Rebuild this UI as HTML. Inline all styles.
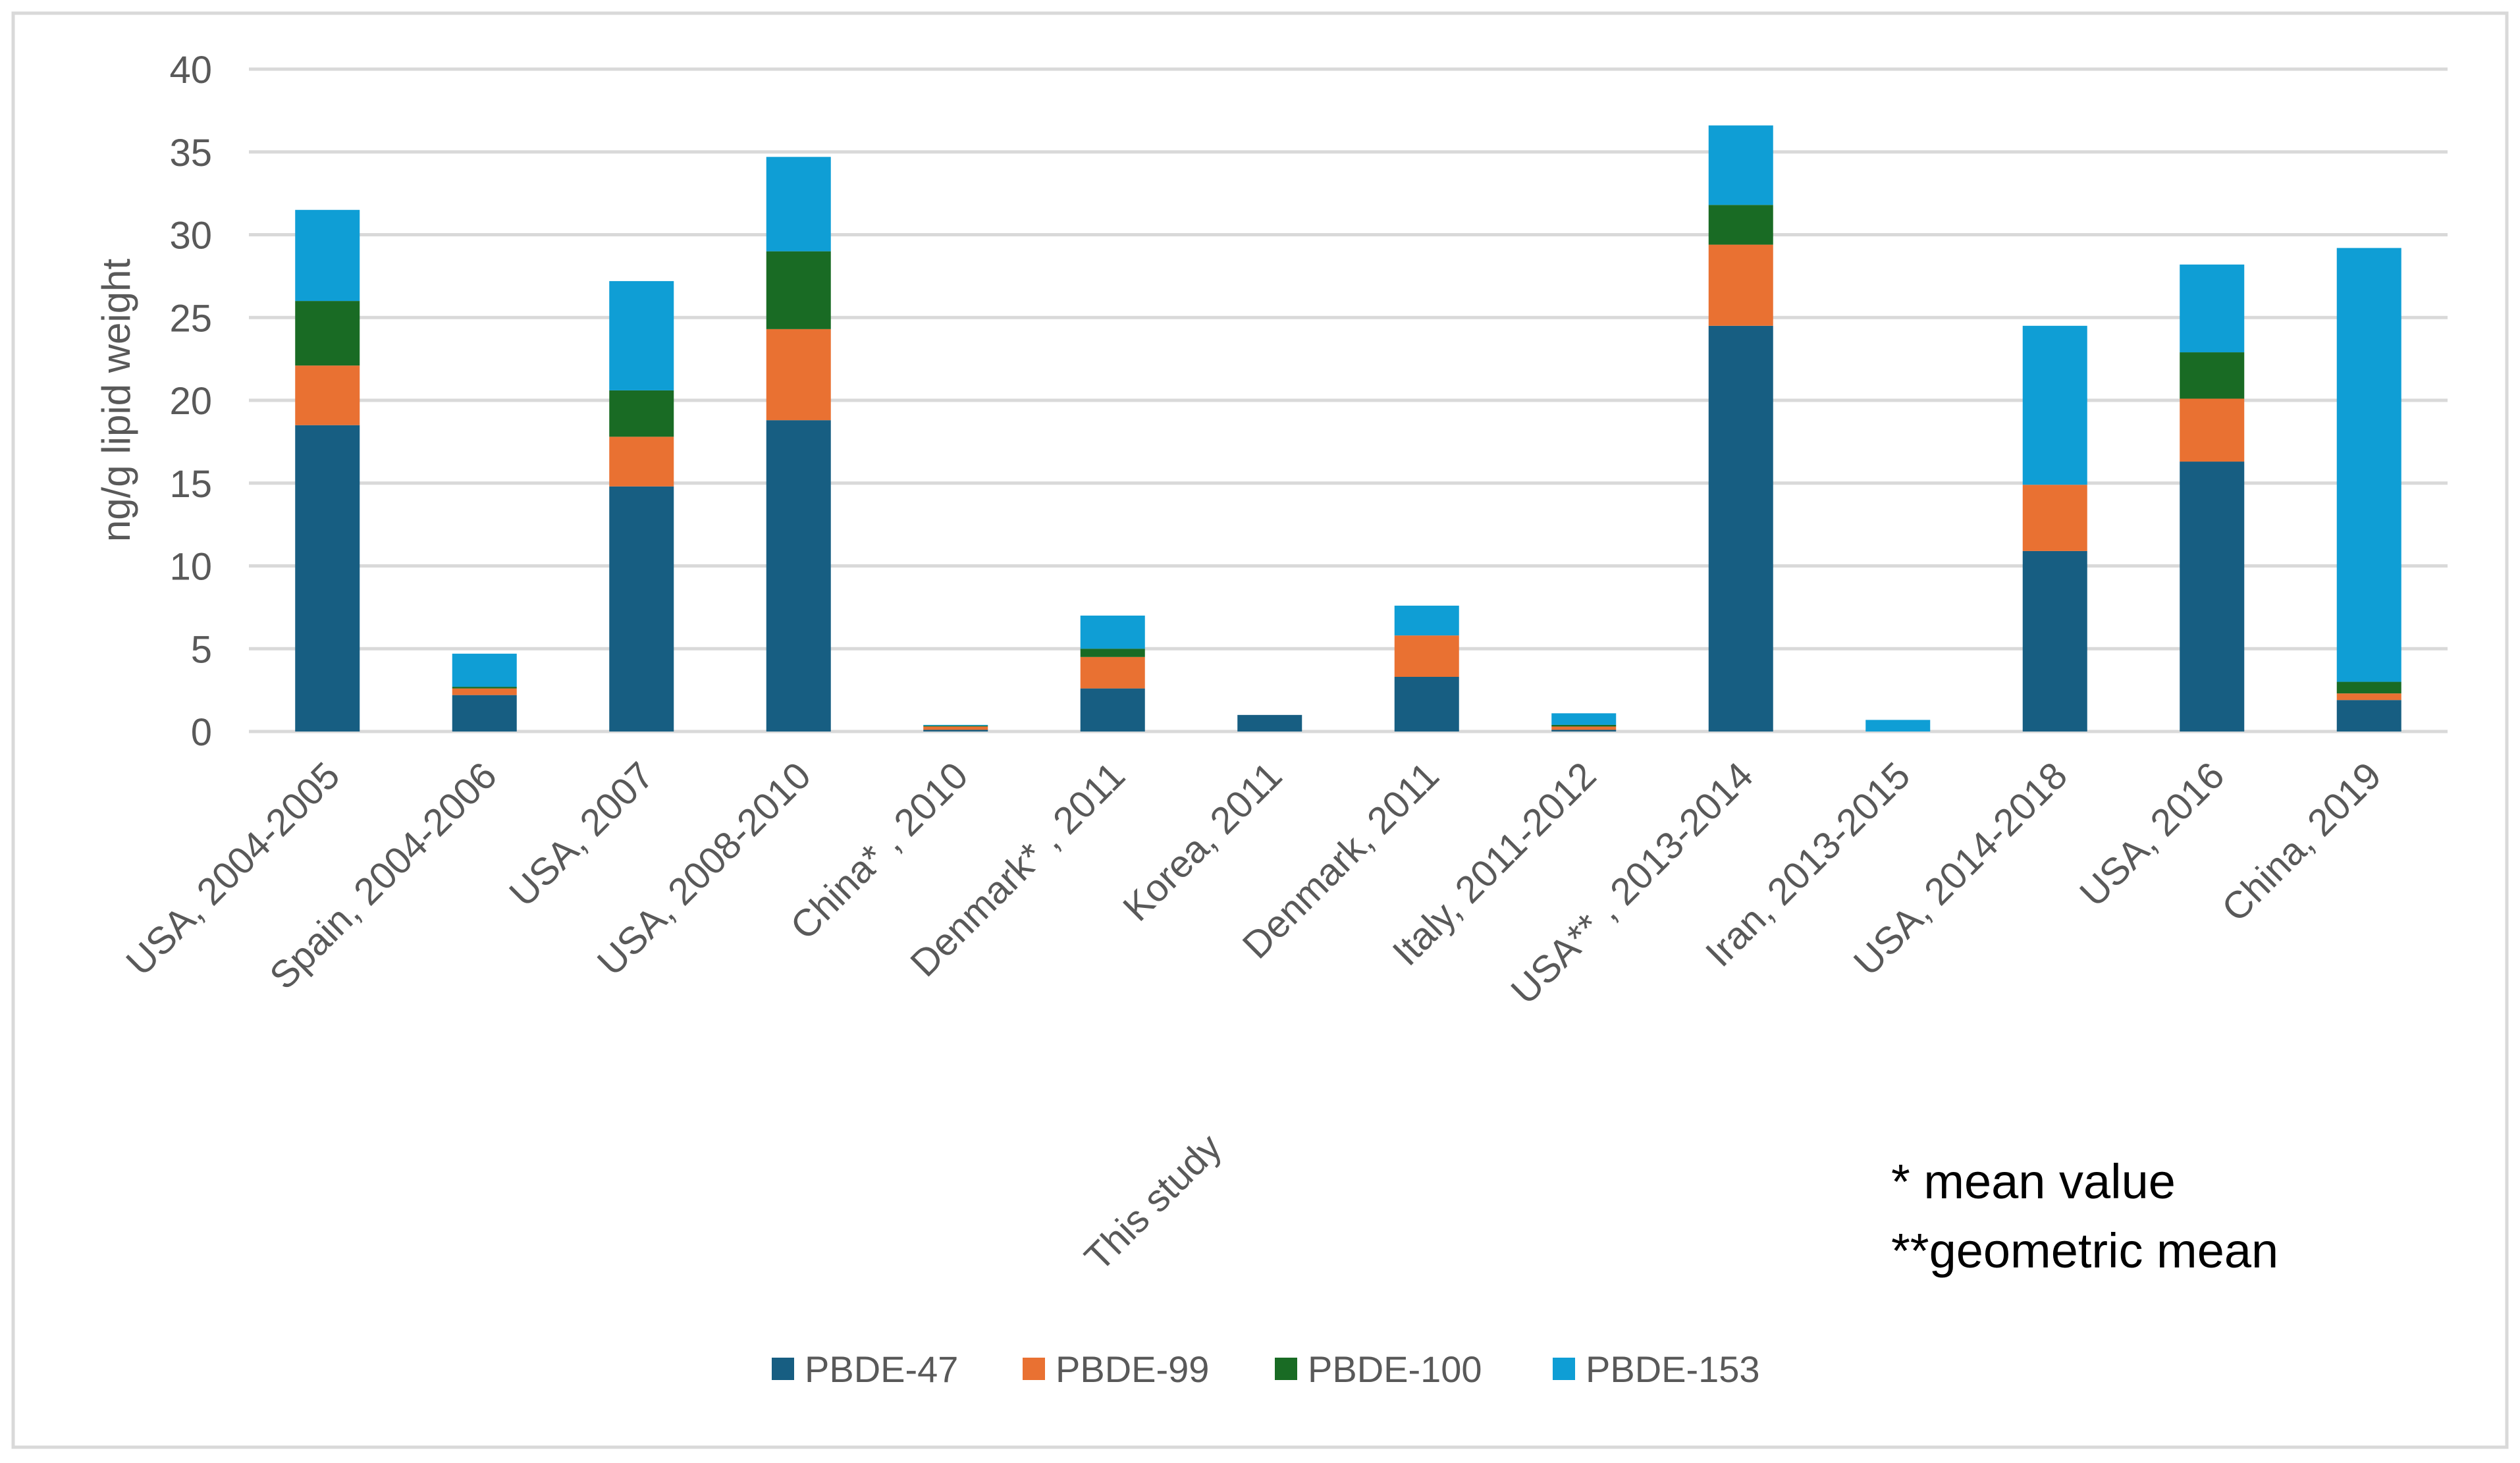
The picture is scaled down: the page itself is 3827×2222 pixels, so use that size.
<!DOCTYPE html>
<html><head><meta charset="utf-8"><style>
html,body{margin:0;padding:0;background:#fff;}
svg{display:block;font-family:"Liberation Sans",sans-serif;}
</style></head><body>
<svg id="chart" width="3827" height="2222" viewBox="0 0 3827 2222" xmlns="http://www.w3.org/2000/svg">
<rect x="20" y="20" width="3787" height="2178" fill="#fff" stroke="#d9d9d9" stroke-width="5"/>
<g id="grid"></g><g id="bars"></g><g id="xlabels"></g><g id="ylabels"></g>
<text transform="translate(197,608) rotate(-90)" text-anchor="middle" font-size="60" fill="#595959">ng/g lipid weight</text>
<text transform="translate(1765,1840) rotate(-45)" text-anchor="middle" font-size="58" fill="#595959">This study</text>
<text x="2872" y="1820" font-size="74" fill="#000">* mean value</text>
<text x="2872" y="1925" font-size="74" fill="#000">**geometric mean</text>
<g id="legend"></g>
</svg>
<script>
const categories=["USA, 2004-2005","Spain, 2004-2006","USA, 2007","USA, 2008-2010","China* , 2010","Denmark* , 2011","Korea, 2011","Denmark, 2011","Italy, 2011-2012","USA** , 2013-2014","Iran, 2013-2015","USA, 2014-2018","USA, 2016","China, 2019"];
const pbde47=[18.5,2.2,14.8,18.8,0.1,2.6,1.0,3.3,0.1,24.5,0,10.9,16.3,1.9];
const pbde99=[3.6,0.4,3.0,5.5,0.2,1.9,0,2.5,0.2,4.9,0,4.0,3.8,0.4];
const pbde100=[3.9,0.1,2.8,4.7,0.05,0.5,0,0,0.1,2.4,0,0,2.8,0.7];
const pbde153=[5.5,2.0,6.6,5.7,0.05,2.0,0,1.8,0.7,4.8,0.7,9.6,5.3,26.2];
const seriesNames=["PBDE-47","PBDE-99","PBDE-100","PBDE-153"];
const yTicks=[0,5,10,15,20,25,30,35,40];
const NS="http://www.w3.org/2000/svg";
const colors=["#175E82","#E97132","#196B24","#0F9ED5"];
const L=378,R=3717,Y0=1111,Y40=105;
const y=v=>Y0-(v/40)*(Y0-Y40);
const step=(R-L)/categories.length;
const xc=i=>L+step*(i+0.5);
const bw=98;
function mk(t,a,p){const e=document.createElementNS(NS,t);for(const k in a)e.setAttribute(k,a[k]);p.appendChild(e);return e;}
const grid=document.getElementById('grid'),yl=document.getElementById('ylabels');
yTicks.forEach(t=>{
 const l=mk('line',{x1:L,x2:R,y1:y(t),y2:y(t),stroke:'#d9d9d9','stroke-width':5},grid);
 
 
 const tx=mk('text',{x:322,y:y(t)+21,'text-anchor':'end','font-size':58,fill:'#595959'},yl);
 tx.textContent=t;
 
 
});
const series=[pbde47,pbde99,pbde100,pbde153];
const bars=document.getElementById('bars'),xl=document.getElementById('xlabels');
categories.forEach((c,i)=>{
 let acc=0;
 series.forEach((s,k)=>{
  const v=s[i]; if(v<=0)return;
  const r=mk('rect',{x:xc(i)-bw/2,y:y(acc+v),width:bw,height:y(acc)-y(acc+v),fill:colors[k]},bars);
  
  
  acc+=v;
 });
 const t=mk('text',{transform:`translate(${xc(i)+22},${1182}) rotate(-45)`,'text-anchor':'end','font-size':58,fill:'#595959'},xl);
 t.textContent=c;
 
 
});
const lg=document.getElementById('legend');
const lx=[1172,1553,1936,2358];
seriesNames.forEach((n,k)=>{
 const r=mk('rect',{x:lx[k],y:2062,width:34,height:34,fill:colors[k]},lg);
 
 
 const t=mk('text',{x:lx[k]+50,y:2099,'font-size':56,fill:'#595959'},lg);
 t.textContent=n;
 
 
});
</script>
</body></html>
